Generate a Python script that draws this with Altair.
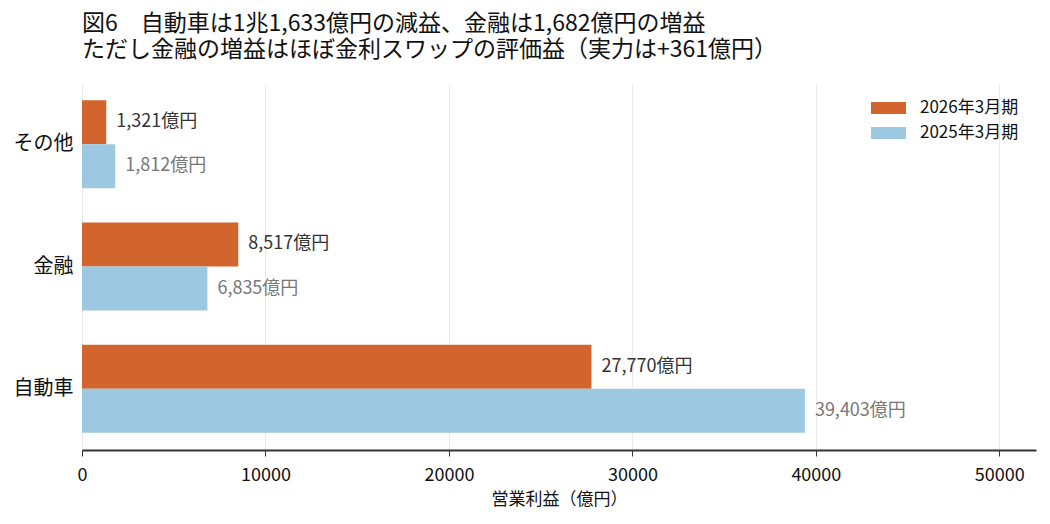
import altair as alt
import pandas as pd

categories = ["その他", "金融", "自動車"]
periods = ["2026年3月期", "2025年3月期"]
values_2026 = [1321, 8517, 27770]
values_2025 = [1812, 6835, 39403]
colors = ["#D2642D", "#9DC8E1"]
label_colors = ["#333333", "#777777"]
x_ticks = [0, 10000, 20000, 30000, 40000, 50000]

rows = []
for c, v in zip(categories, values_2026):
    rows.append({"cat": c, "period": periods[0], "value": v, "label": f"{v:,}億円"})
for c, v in zip(categories, values_2025):
    rows.append({"cat": c, "period": periods[1], "value": v, "label": f"{v:,}億円"})
df = pd.DataFrame(rows)

FONT = "Noto Sans CJK JP"

y_enc = alt.Y("cat:N", sort=categories, title=None,
              scale=alt.Scale(paddingInner=0.28, paddingOuter=0.14),
              axis=alt.Axis(domain=False, ticks=False, labelFontSize=20, labelColor="#111",
                            labelPadding=9, minExtent=69, maxExtent=69, labelFont=FONT))
yoff = alt.YOffset("period:N", sort=periods, scale=alt.Scale(paddingInner=0, paddingOuter=0))
x_enc = alt.X("value:Q", title="営業利益（億円）",
              scale=alt.Scale(domain=[0, 52000], nice=False),
              axis=alt.Axis(values=x_ticks, format="d", grid=True, gridColor="#ebebeb",
                            domainColor="#333", domainWidth=2, tickColor="#333", tickSize=6,
                            labelFontSize=18, labelColor="#111", labelFont=FONT, labelFlush=False,
                            titleFont=FONT, titleFontSize=17, titleFontWeight="normal",
                            titleColor="#111", titlePadding=7, labelPadding=10))

bars = alt.Chart(df).mark_bar().encode(
    x=x_enc, y=y_enc, yOffset=yoff,
    color=alt.Color("period:N", sort=periods,
                    scale=alt.Scale(domain=periods, range=colors),
                    legend=alt.Legend(title=None, orient="none", legendX=794.5, legendY=13,
                                      symbolType="M-1.4583,-0.5H1.4583V0.5H-1.4583Z",
                                      symbolSize=576, symbolStrokeWidth=0, symbolOpacity=1,
                                      labelFontSize=17, labelFont=FONT, labelColor="#111",
                                      labelOffset=19.5, rowPadding=5, padding=0)),
)

texts = alt.Chart(df).mark_text(align="left", baseline="middle", dx=10, fontSize=18, font=FONT).encode(
    x="value:Q", y=alt.Y("cat:N", sort=categories), yOffset=yoff,
    text="label:N",
    color=alt.Color("period:N", sort=periods, scale=alt.Scale(domain=periods, range=label_colors), legend=None),
)

chart = alt.layer(bars, texts).resolve_scale(color="independent").properties(
    width=954, height=367,
    padding={"left": 5, "top": 5, "right": 5, "bottom": 5},
    title=alt.Title(["図6　自動車は1兆1,633億円の減益、金融は1,682億円の増益",
                     "ただし金融の増益はほぼ金利スワップの評価益（実力は+361億円）"],
                    anchor="start", frame="group", fontSize=23, fontWeight="normal",
                    font=FONT, color="#111", lineHeight=26, offset=21),
).configure_view(stroke=None)

chart.save("out.html", embed_options={"renderer": "svg", "actions": False})
